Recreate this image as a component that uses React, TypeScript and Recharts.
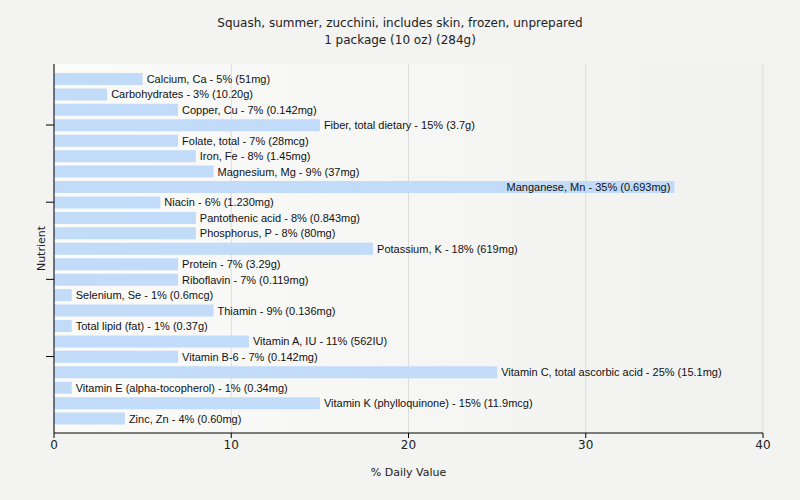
import React from 'react';
import {
  BarChart,
  Bar,
  XAxis,
  YAxis,
  CartesianGrid,
  LabelList,
} from 'recharts';

const nutrients = [
  'Calcium, Ca',
  'Carbohydrates',
  'Copper, Cu',
  'Fiber, total dietary',
  'Folate, total',
  'Iron, Fe',
  'Magnesium, Mg',
  'Manganese, Mn',
  'Niacin',
  'Pantothenic acid',
  'Phosphorus, P',
  'Potassium, K',
  'Protein',
  'Riboflavin',
  'Selenium, Se',
  'Thiamin',
  'Total lipid (fat)',
  'Vitamin A, IU',
  'Vitamin B-6',
  'Vitamin C, total ascorbic acid',
  'Vitamin E (alpha-tocopherol)',
  'Vitamin K (phylloquinone)',
  'Zinc, Zn',
];

const dailyValues = [5, 3, 7, 15, 7, 8, 9, 35, 6, 8, 8, 18, 7, 7, 1, 9, 1, 11, 7, 25, 1, 15, 4];

const amounts = [
  '51mg', '10.20g', '0.142mg', '3.7g', '28mcg', '1.45mg', '37mg', '0.693mg',
  '1.230mg', '0.843mg', '80mg', '619mg', '3.29g', '0.119mg', '0.6mcg', '0.136mg',
  '0.37g', '562IU', '0.142mg', '15.1mg', '0.34mg', '11.9mcg', '0.60mg',
];

const xTicks = [0, 10, 20, 30, 40];

const data = nutrients.map((name, i) => ({
  name,
  value: dailyValues[i],
  label: `${name} - ${dailyValues[i]}% (${amounts[i]})`,
}));

const PLOT_RIGHT = 763;

const BarLabel = (props: any) => {
  const { x, y, width, height, value } = props;
  const text = String(value);
  const est = text.length * 5;
  const end = x + width;
  const inside = end + 4 + est > PLOT_RIGHT;
  return (
    <text
      x={inside ? end - 4 : end + 4}
      y={y + height / 2}
      dy={4}
      textAnchor={inside ? 'end' : 'start'}
      fontSize={11}
      fontFamily="'Liberation Sans', Arial, sans-serif"
      fill="#111"
    >
      {text}
    </text>
  );
};

// tick marks only, no labels on the category axis
const NoTickLabel = () => <g />;

export default function App() {
  return (
    <div style={{ position: 'absolute', left: 0, top: 0, width: 800, height: 500, background: '#f3f3f1' }}>
      <div
        style={{
          position: 'absolute',
          top: 15,
          width: 800,
          textAlign: 'center',
          fontFamily: "'DejaVu Sans', Verdana, sans-serif",
          fontSize: 12,
          lineHeight: '17px',
          color: '#222',
        }}
      >
        Squash, summer, zucchini, includes skin, frozen, unprepared
        <br />
        1 package (10 oz) (284g)
      </div>
      <BarChart
        width={800}
        height={500}
        data={data}
        layout="vertical"
        margin={{ top: 64, right: 37, bottom: 17, left: 0 }}
        barCategoryGap={0}
        style={{ position: 'absolute', left: 0, top: 0 }}
      >
        <defs>
          <linearGradient id="plotBg" x1="0" y1="0" x2="1" y2="0">
            <stop offset="0%" stopColor="#fbfbfa" />
            <stop offset="100%" stopColor="#f1f1ef" />
          </linearGradient>
        </defs>
        <CartesianGrid horizontal={false} stroke="#dcdcdc" fill="url(#plotBg)" />
        <XAxis
          type="number"
          domain={[0, 40]}
          ticks={xTicks}
          height={50}
          stroke="#000"
          tickSize={5}
          tick={{ fill: '#222', fontSize: 12, fontFamily: "'DejaVu Sans', Verdana, sans-serif" }}
          label={{
            value: '% Daily Value',
            position: 'insideBottom',
            offset: 7,
            fill: '#222',
            fontSize: 11,
            fontFamily: "'DejaVu Sans', Verdana, sans-serif",
          }}
        />
        <YAxis
          type="category"
          dataKey="name"
          width={54}
          stroke="#000"
          tickSize={8}
          tick={NoTickLabel}
          ticks={[nutrients[3], nutrients[8], nutrients[13], nutrients[18]]}
          padding={{ top: 7, bottom: 7 }}
          label={{
            value: 'Nutrient',
            angle: -90,
            position: 'insideLeft',
            offset: 41,
            fill: '#222',
            fontSize: 11,
            fontFamily: "'DejaVu Sans', Verdana, sans-serif",
            style: { textAnchor: 'middle' },
          }}
        />
        <Bar dataKey="value" fill="#c1dbf9" barSize={12} isAnimationActive={false}>
          <LabelList dataKey="label" content={BarLabel} />
        </Bar>
      </BarChart>
    </div>
  );
}
